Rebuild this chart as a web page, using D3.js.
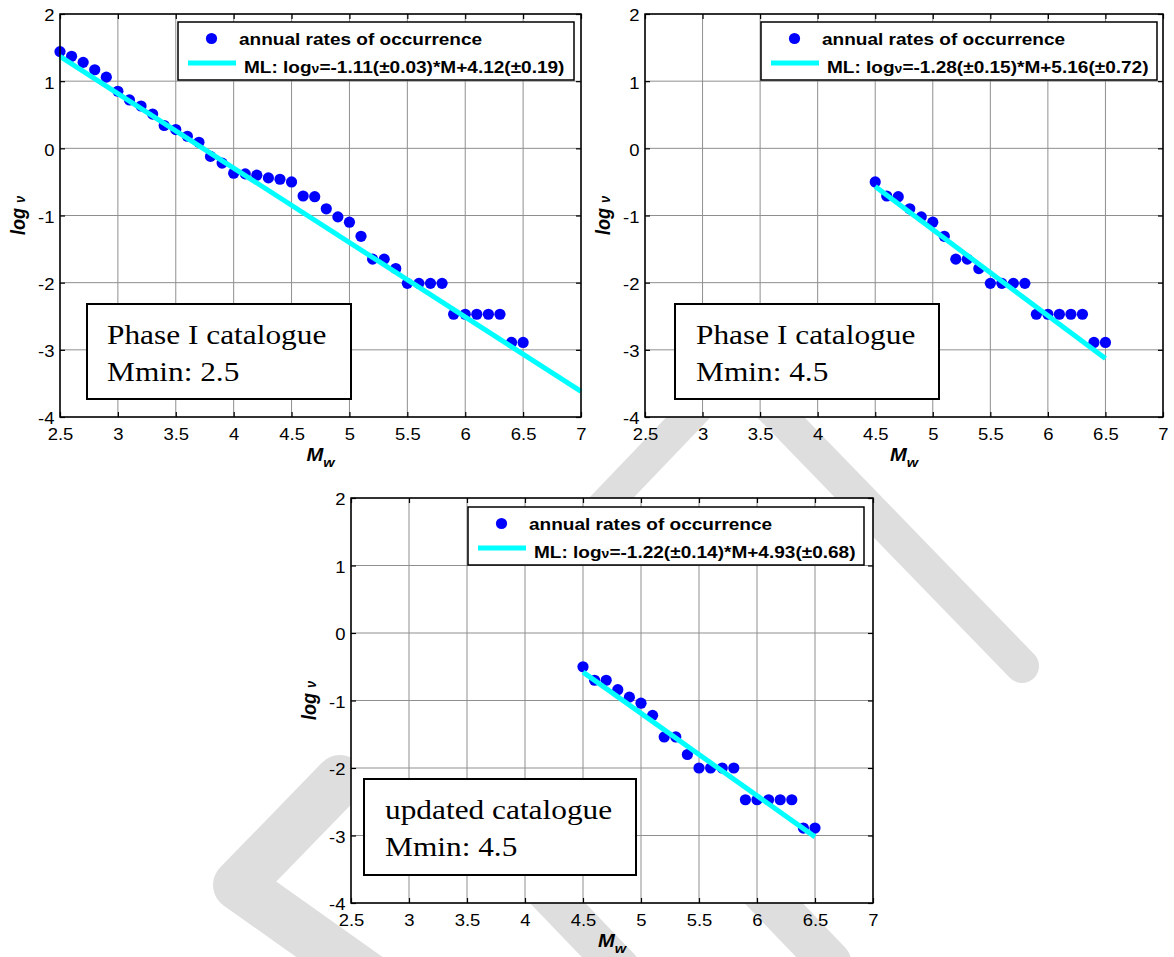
<!DOCTYPE html>
<html><head><meta charset="utf-8">
<script src="https://cdn.jsdelivr.net/npm/d3@7"></script>
<style>body{margin:0;background:#fff}svg{display:block}</style>
</head><body>
<svg id="c" width="1174" height="957"></svg>
<script>
// ---------- data ----------
const magnitudesPhase1 = [2.5,2.6,2.7,2.8,2.9,3.0,3.1,3.2,3.3,3.4,3.5,3.6,3.7,3.8,3.9,4.0,4.1,4.2,4.3,4.4,4.5,4.6,4.7,4.8,4.9,5.0,5.1,5.2,5.3,5.4,5.5,5.6,5.7,5.8,5.9,6.0,6.1,6.2,6.3,6.4,6.5];
const ratesPhase1Mmin25 = [1.44,1.37,1.28,1.17,1.06,0.85,0.72,0.63,0.51,0.34,0.28,0.18,0.09,-0.12,-0.22,-0.37,-0.38,-0.40,-0.44,-0.46,-0.50,-0.71,-0.72,-0.90,-1.02,-1.10,-1.31,-1.65,-1.65,-1.79,-2.01,-2.01,-2.01,-2.01,-2.47,-2.47,-2.47,-2.47,-2.47,-2.89,-2.89];
const magnitudesMmin45 = [4.5,4.6,4.7,4.8,4.9,5.0,5.1,5.2,5.3,5.4,5.5,5.6,5.7,5.8,5.9,6.0,6.1,6.2,6.3,6.4,6.5];
const ratesPhase1Mmin45 = [-0.50,-0.71,-0.72,-0.90,-1.02,-1.10,-1.31,-1.65,-1.65,-1.79,-2.01,-2.01,-2.01,-2.01,-2.47,-2.47,-2.47,-2.47,-2.47,-2.89,-2.89];
const ratesUpdatedMmin45 = [-0.50,-0.70,-0.70,-0.84,-0.95,-1.04,-1.22,-1.54,-1.54,-1.80,-2.00,-2.00,-2.00,-2.00,-2.47,-2.47,-2.47,-2.47,-2.47,-2.89,-2.89];
const fitM_Phase1Mmin25 = [2.5, 7.0];
const fitV_Phase1Mmin25 = [1.37, -3.62];
const fitM_Phase1Mmin45 = [4.5, 6.5];
const fitV_Phase1Mmin45 = [-0.57, -3.13];
const fitM_UpdatedMmin45 = [4.5, 6.5];
const fitV_UpdatedMmin45 = [-0.58, -3.02];
const xTickValues = [2.5,3,3.5,4,4.5,5,5.5,6,6.5,7];
const xTickLabels = ["2.5","3","3.5","4","4.5","5","5.5","6","6.5","7"];
const yTickValues = [2,1,0,-1,-2,-3,-4];
const yTickLabels = ["2","1","0","-1","-2","-3","-4"];
const legendPointsLabel = "annual rates of occurrence";
const fitLabels = [
  ["ML: log","=-1.11(\u00b10.03)*M+4.12(\u00b10.19)"],
  ["ML: log","=-1.28(\u00b10.15)*M+5.16(\u00b10.72)"],
  ["ML: log","=-1.22(\u00b10.14)*M+4.93(\u00b10.68)"]
];
const boxLines = [
  ["Phase I catalogue","Mmin: 2.5"],
  ["Phase I catalogue","Mmin: 4.5"],
  ["updated catalogue","Mmin: 4.5"]
];

// ---------- layout ----------
const SX = 1.12;
const SANS = "'Liberation Sans', Arial, Helvetica, sans-serif";
const SERIF = "'Liberation Serif', 'Times New Roman', serif";
const svg = d3.select("#c");

// watermark (drawn beneath the axes)
const wm = svg.append("g").attr("fill","none").attr("stroke","#dedede")
  .attr("stroke-linecap","round").attr("stroke-linejoin","round");
wm.append("path").attr("d","M700,334 L1022,666").attr("stroke-width",34);
wm.append("path").attr("d","M705,400 L590,520").attr("stroke-width",32);
wm.append("path").attr("d","M340,780 L238,885 L400,1000").attr("stroke-width",50);
wm.append("path").attr("d","M640,764 L830,962").attr("stroke-width",42);
wm.append("path").attr("d","M430,770 L620,968").attr("stroke-width",40);

const panels = [
  {x0:60, x1:581, y0:14, y1:417, m:magnitudesPhase1, v:ratesPhase1Mmin25, fm:fitM_Phase1Mmin25, fv:fitV_Phase1Mmin25,
   fit:fitLabels[0], box:boxLines[0], legX:178, legY:22, bx:87, by:304, bw:264, bh:95, tx:107},
  {x0:645, x1:1163, y0:14, y1:417, m:magnitudesMmin45, v:ratesPhase1Mmin45, fm:fitM_Phase1Mmin45, fv:fitV_Phase1Mmin45,
   fit:fitLabels[1], box:boxLines[1], legX:761, legY:22, bx:675, by:304, bw:264, bh:95, tx:696},
  {x0:351, x1:873, y0:498, y1:903, m:magnitudesMmin45, v:ratesUpdatedMmin45, fm:fitM_UpdatedMmin45, fv:fitV_UpdatedMmin45,
   fit:fitLabels[2], box:boxLines[2], legX:468, legY:507, bx:364, by:779, bw:272, bh:96, tx:385}
];

function stretch(sel, x, y, extra) {
  return sel.attr("transform", `translate(${x},${y}) scale(${SX},1)` + (extra||""));
}

panels.forEach(p => {
  const g = svg.append("g");
  const x = d3.scaleLinear().domain([2.5,7]).range([p.x0,p.x1]);
  const y = d3.scaleLinear().domain([-4,2]).range([p.y1,p.y0]);

  g.append("rect").attr("x",p.x0).attr("y",p.y0).attr("width",p.x1-p.x0).attr("height",p.y1-p.y0).attr("fill","#fff");

  // grid
  g.append("g").selectAll("line").data(xTickValues).join("line")
    .attr("x1",d=>x(d)).attr("x2",d=>x(d)).attr("y1",p.y0).attr("y2",p.y1)
    .attr("stroke","#8f8f8f").attr("stroke-width",1);
  g.append("g").selectAll("line").data(yTickValues).join("line")
    .attr("y1",d=>y(d)).attr("y2",d=>y(d)).attr("x1",p.x0).attr("x2",p.x1)
    .attr("stroke","#8f8f8f").attr("stroke-width",1);

  // points
  g.append("g").selectAll("circle").data(p.m.map((m,i)=>[m,p.v[i]])).join("circle")
    .attr("cx",d=>x(d[0])).attr("cy",d=>y(d[1])).attr("r",5.6).attr("fill","#0000ff");
  // fit line
  g.append("path").datum(p.fm.map((m,i)=>[m,p.fv[i]]))
    .attr("d", d3.line().x(d=>x(d[0])).y(d=>y(d[1])))
    .attr("fill","none").attr("stroke","#00ffff").attr("stroke-width",5);

  // axes
  const styleAxis = a => {
    a.select(".domain").remove();
    a.selectAll(".tick line").attr("stroke","#000").attr("stroke-width",1.2);
    a.selectAll("text").attr("font-family",SANS).attr("font-size",16.5).attr("fill","#000");
  };
  const ab = g.append("g").attr("transform",`translate(0,${p.y1})`)
    .call(d3.axisBottom(x).tickValues(xTickValues).tickFormat((d,i)=>xTickLabels[i]).tickSizeInner(-5).tickSizeOuter(0).tickPadding(10.8));
  styleAxis(ab);
  ab.selectAll("text").attr("transform",`scale(${SX},1)`);
  const at = g.append("g").attr("transform",`translate(0,${p.y0})`)
    .call(d3.axisTop(x).tickValues(xTickValues).tickFormat("").tickSizeInner(-5).tickSizeOuter(0));
  styleAxis(at);
  const al = g.append("g").attr("transform",`translate(${p.x0},0)`)
    .call(d3.axisLeft(y).tickValues(yTickValues).tickFormat((d,i)=>yTickLabels[i]).tickSizeInner(-5).tickSizeOuter(0).tickPadding(5));
  styleAxis(al);
  al.selectAll("text").attr("dy","0.42em").attr("transform",`scale(${SX},1)`);
  const ar = g.append("g").attr("transform",`translate(${p.x1},0)`)
    .call(d3.axisRight(y).tickValues(yTickValues).tickFormat("").tickSizeInner(-5).tickSizeOuter(0));
  styleAxis(ar);

  // frame
  g.append("rect").attr("x",p.x0).attr("y",p.y0).attr("width",p.x1-p.x0).attr("height",p.y1-p.y0)
    .attr("fill","none").attr("stroke","#000").attr("stroke-width",1.5);

  // axis labels
  const xl = stretch(g.append("text"), (p.x0+p.x1)/2, p.y1+44)
    .attr("text-anchor","middle").attr("font-family",SANS).attr("font-weight","bold").attr("font-style","italic");
  xl.append("tspan").attr("font-size",18).text("M");
  xl.append("tspan").attr("font-size",13).attr("dy",6).text("w");
  const yl = stretch(g.append("text"), p.x0-35, (p.y0+p.y1)/2, " rotate(-90)")
    .attr("text-anchor","middle").attr("font-family",SANS).attr("font-weight","bold").attr("font-style","italic");
  yl.append("tspan").attr("font-size",18).text("log ");
  yl.append("tspan").attr("font-size",13).text("\u03bd");

  // legend
  const lg = g.append("g");
  lg.append("rect").attr("x",p.legX).attr("y",p.legY).attr("width",396).attr("height",58)
    .attr("fill","#fff").attr("stroke","#000").attr("stroke-width",1.5);
  lg.append("circle").attr("cx",p.legX+33.5).attr("cy",p.legY+16.5).attr("r",5.6).attr("fill","#0000ff");
  lg.append("line").attr("x1",p.legX+10).attr("x2",p.legX+58).attr("y1",p.legY+41).attr("y2",p.legY+41)
    .attr("stroke","#00ffff").attr("stroke-width",5);
  stretch(lg.append("text"), p.legX+61, p.legY+23)
    .attr("font-family",SANS).attr("font-weight","bold").attr("font-size",17).text(legendPointsLabel);
  const t2 = stretch(lg.append("text"), p.legX+66, p.legY+50.5)
    .attr("font-family",SANS).attr("font-weight","bold").attr("font-size",17);
  t2.append("tspan").text(p.fit[0]);
  t2.append("tspan").attr("font-size",12.5).text("\u03bd");
  t2.append("tspan").text(p.fit[1]);

  // annotation box
  const bx = g.append("g");
  bx.append("rect").attr("x",p.bx).attr("y",p.by).attr("width",p.bw).attr("height",p.bh)
    .attr("fill","#fff").attr("stroke","#000").attr("stroke-width",2);
  stretch(bx.append("text"), p.tx, p.by+40).attr("font-family",SERIF).attr("font-size",28).text(p.box[0]);
  stretch(bx.append("text"), p.tx, p.by+76.5).attr("font-family",SERIF).attr("font-size",28).text(p.box[1]);
});
</script>
</body></html>
